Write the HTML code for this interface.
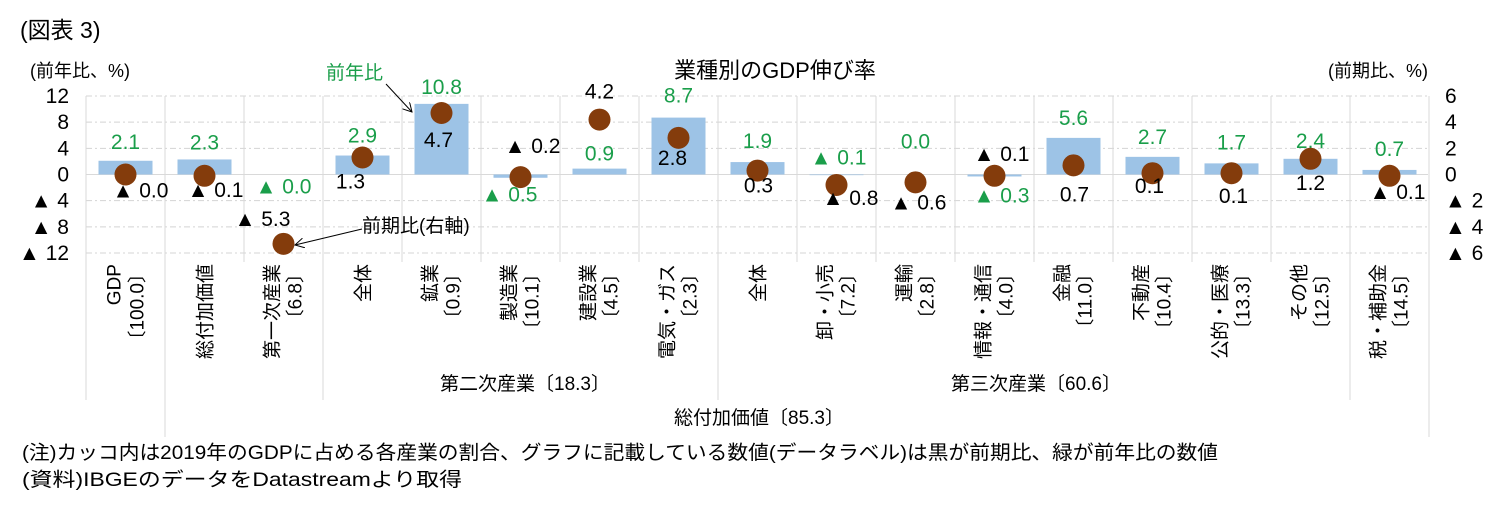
<!DOCTYPE html>
<html><head><meta charset="utf-8"><style>
html,body{margin:0;padding:0;background:#fff}
svg{display:block}
text{font-family:"Liberation Sans","Noto Sans CJK JP",sans-serif}
</style></head><body>
<svg id="chart" width="1500" height="508" viewBox="0 0 1500 508">
<defs><marker id="ah" markerWidth="10" markerHeight="10" refX="9" refY="5" orient="auto" markerUnits="userSpaceOnUse"><path d="M0,0 L9,5 L0,10" fill="none" stroke="#000" stroke-width="1"/></marker></defs>
<text x="20" y="38" font-size="23" font-family="Liberation Serif, Noto Serif CJK SC, serif">(図表 3)</text>
<text x="775" y="78" font-size="22" text-anchor="middle">業種別のGDP伸び率</text>
<text x="30" y="77" font-size="18">(前年比、%)</text>
<text x="1328" y="77" font-size="18">(前期比、%)</text>
<g id="grid"></g><g id="bars"></g><g id="marks"></g><g id="xlabels"></g>
<text x="326" y="79" font-size="19" fill="#1a9e4a">前年比</text>
<line x1="386" y1="84" x2="412" y2="112" stroke="#000" stroke-width="1" marker-end="url(#ah)"/>
<text x="362" y="232" font-size="19">前期比(右軸)</text>
<line x1="362" y1="229" x2="295" y2="245" stroke="#000" stroke-width="1" marker-end="url(#ah)"/>
<text x="440" y="390" font-size="19">第二次産業〔18.3〕</text>
<text x="951" y="390" font-size="19">第三次産業〔60.6〕</text>
<text x="674" y="424" font-size="19">総付加価値〔85.3〕</text>
<text x="22" y="459" font-size="19.5" textLength="1196" lengthAdjust="spacingAndGlyphs">(注)カッコ内は2019年のGDPに占める各産業の割合、グラフに記載している数値(データラベル)は黒が前期比、緑が前年比の数値</text>
<text x="22" y="486" font-size="19.5" textLength="440" lengthAdjust="spacingAndGlyphs">(資料)IBGEのデータをDatastreamより取得</text>
</svg>
<script>
const categories=["GDP","総付加価値","第一次産業","全体","鉱業","製造業","建設業","電気・ガス","全体","卸・小売","運輸","情報・通信","金融","不動産","公的・医療","その他","税・補助金"];
const shares=["〔100.0〕","","〔6.8〕","","〔0.9〕","〔10.1〕","〔4.5〕","〔2.3〕","","〔7.2〕","〔2.8〕","〔4.0〕","〔11.0〕","〔10.4〕","〔13.3〕","〔12.5〕","〔14.5〕"];
const yoyValues=[2.1,2.3,-0,2.9,10.8,-0.5,0.9,8.7,1.9,-0.1,0.0,-0.3,5.6,2.7,1.7,2.4,0.7];
const qoqValues=[-0,-0.1,-5.3,1.3,4.7,-0.2,4.2,2.8,0.3,-0.8,-0.6,-0.1,0.7,0.1,0.1,1.2,-0.1];
const leftTicks=[12,8,4,0,-4,-8,-12];
const rightTicks=[6,4,2,0,-2,-4,-6];
// label offsets (layout, not data)
const qdx=[15,11,-21,-12,-3,12,0,-6,1,14,3,7,1,-3,2,0,8];
const qdy=[16,14,-25,24,27,-31,-28,20,15,13,20,-22,29,13,23,24,16];
const gdx=[0,0,0,0,0,-11,0,0,0,2,0,7,0,0,0,0,0];
const gdy=[-19,-17,12,-20,-17,20,-15,-22,-21,-17,-33,21,-20,-20,-21,-18,-21];

const NS="http://www.w3.org/2000/svg";
const X0=86,CW=79,Y0=174.5,LU=6.54,RU=13.08;
const xc=i=>X0+CW*(i+0.5);
const yL=v=>Y0-v*LU;
const yR=v=>Y0-v*RU;
const fmt=v=>(v<0||Object.is(v,-0))?"▲ "+Math.abs(v).toFixed(1):v.toFixed(1);
function mk(tag,attrs,parent,txt){const e=document.createElementNS(NS,tag);for(const k in attrs)e.setAttribute(k,attrs[k]);if(txt!==undefined)e.textContent=txt;parent.appendChild(e);return e;}
const grid=document.getElementById('grid'),bars=document.getElementById('bars'),marks=document.getElementById('marks'),xl=document.getElementById('xlabels');
leftTicks.forEach((t,i)=>{
  const y=yL(t);
  if(t!==0){const g=mk('line',{x1:X0,x2:1428,y1:y,y2:y,stroke:'#d4d4d4','stroke-dasharray':'6,3,2,3'},grid);
  
  }
  const l=mk('text',{x:69,y:y+7,'font-size':21,'text-anchor':'end'},grid,t<0?"▲ "+Math.abs(t):String(t));
  
  
  const r=rightTicks[i];
  const rl=mk('text',{x:1445,y:y+7,'font-size':21,'text-anchor':'start'},grid,r<0?"▲ "+Math.abs(r):String(r));
  
  
});
for(let i=0;i<=categories.length;i++){
  const x=X0+CW*i;
  let y2=262;
  if([0,3,8,16].includes(i))y2=400;
  if([1,17].includes(i))y2=437;
  const v=mk('line',{x1:x,x2:x,y1:96,y2:y2,stroke:'#d9d9d9'},grid);
  
  
}
const z=mk('line',{x1:X0,x2:1428,y1:Y0,y2:Y0,stroke:'#d9d9d9'},grid);


categories.forEach((c,i)=>{
  const x=xc(i),v=yoyValues[i],y=yL(v);
  const b=mk('rect',{x:x-27,y:Math.min(y,Y0),width:54,height:Math.max(Math.abs(Y0-y),0),fill:'#9dc3e6'},bars);
  
  
  const gy=(v<0?Y0:Math.min(y,Y0))+gdy[i];
  const gl=mk('text',{x:x+gdx[i],y:gy+7,'font-size':21,'text-anchor':'middle',fill:'#1a9e4a'},marks,fmt(v));
  
  
  const q=qoqValues[i],qy=yR(q);
  const d=mk('circle',{cx:x,cy:qy,r:11,fill:'#843c0c'},marks);
  
  
  const ql=mk('text',{x:x+qdx[i],y:qy+qdy[i]+7,'font-size':21,'text-anchor':'middle',fill:'#000'},marks,fmt(q));
  
  
  const g=mk('g',{transform:`translate(${x},264) rotate(-90)`},xl);
  
  
  if(shares[i]){
    mk('text',{x:0,y:-5,'font-size':19,'text-anchor':'end'},g,c);
    mk('text',{x:0,y:18,'font-size':19,'text-anchor':'end'},g,shares[i]);
  } else {
    mk('text',{x:0,y:7,'font-size':19,'text-anchor':'end'},g,c);
  }
});
</script>
</body></html>
